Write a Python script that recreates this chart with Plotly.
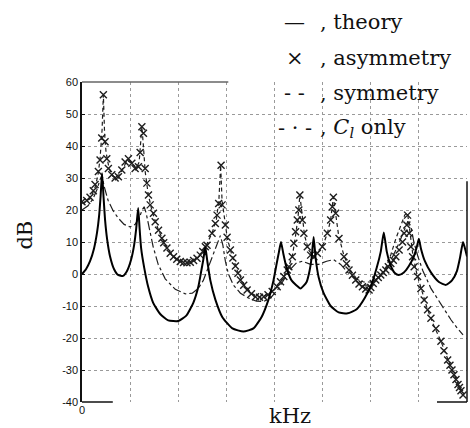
import plotly.graph_objects as go

# ---------------- data (x in kHz-axis units, y in dB) ----------------
theory_x = [0, 0.083, 0.167, 0.25, 0.313, 0.354, 0.385, 0.417, 0.448, 0.479,
            0.521, 0.583, 0.667, 0.75, 0.854, 0.938, 1.021, 1.083, 1.125, 1.167,
            1.198, 1.229, 1.292, 1.375, 1.479, 1.625, 1.792, 2.0, 2.167, 2.313,
            2.417, 2.479, 2.521, 2.563, 2.604, 2.667, 2.771, 2.917, 3.125, 3.354,
            3.563, 3.729, 3.875, 3.979, 4.042, 4.094, 4.135, 4.188, 4.25, 4.354,
            4.542, 4.667, 4.729, 4.771, 4.813, 4.854, 4.917, 5.021, 5.167, 5.333,
            5.521, 5.708, 5.875, 6.021, 6.125, 6.208, 6.271, 6.333, 6.417, 6.5,
            6.583, 6.688, 6.792, 6.896, 6.958, 7.0, 7.042, 7.125, 7.25, 7.417,
            7.563, 7.688, 7.792, 7.854, 7.917, 7.958, 8.0]
theory_db = [0, 1.5, 4, 8, 13, 18, 24, 31.5, 24, 17,
             11, 5.5, 1.5, -0.3, -0.6, 1, 4.5, 9, 14, 20.6,
             14, 8, 2, -4, -9, -12.5, -14.5, -14.7, -13, -9,
             -4, 1, 4.5, 8.4, 4, -2, -8, -13.5, -17, -18,
             -17, -13.5, -8, -2, 3, 7, 10, 6, 2, -2,
             -4.5, -2.5, 1, 5, 11.6, 5, -1, -6, -10, -12,
             -12.3, -11, -7.5, -3, 2, 7, 13, 7, 2.5, 0.3,
             -0.3, 0.5, 2.5, 5.5, 8.5, 11, 8, 4, 0.5, -2.5,
             -3.4, -2, 1, 5, 10, 8, 5.5]

asym_x = [0, 0.098, 0.167, 0.235, 0.271, 0.340, 0.375, 0.410, 0.444, 0.479,
          0.515, 0.548, 0.619, 0.688, 0.756, 0.827, 0.896, 0.965, 1.035, 1.104,
          1.173, 1.208, 1.244, 1.277, 1.313, 1.348, 1.381, 1.417, 1.485, 1.521,
          1.590, 1.660, 1.698, 1.765, 1.833, 1.902, 1.969, 2.042, 2.110, 2.181,
          2.25, 2.319, 2.390, 2.458, 2.510, 2.563, 2.598, 2.702, 2.771, 2.806,
          2.840, 2.890, 2.910, 2.979, 3.015, 3.083, 3.135, 3.188, 3.240, 3.292,
          3.360, 3.431, 3.521, 3.604, 3.688, 3.777, 3.865, 3.952, 4.056, 4.125,
          4.194, 4.265, 4.298, 4.369, 4.402, 4.438, 4.473, 4.506, 4.527, 4.577,
          4.610, 4.681, 4.75, 4.819, 4.890, 4.994, 5.098, 5.167, 5.202, 5.223,
          5.271, 5.340, 5.444, 5.496, 5.548, 5.619, 5.688, 5.756, 5.827, 5.896,
          5.965, 6.0, 6.052, 6.104, 6.156, 6.208, 6.260, 6.313, 6.365, 6.417,
          6.469, 6.521, 6.590, 6.660, 6.694, 6.75, 6.765, 6.798, 6.833, 6.869,
          6.902, 6.973, 7.042, 7.110, 7.181, 7.25, 7.354, 7.458, 7.521, 7.598,
          7.646, 7.688, 7.729, 7.771, 7.813, 7.844, 7.875, 7.917]
asym_db = [22.6, 23, 24, 26, 28, 32, 35.6, 42.5, 56, 41.3,
           36, 33, 31, 30, 30.4, 32.5, 35, 36, 34.6, 33,
           33.5, 38, 46, 44, 33, 28.4, 24.7, 21.6, 19, 16.3,
           13.7, 11.2, 9.8, 8.1, 6.5, 5.4, 4.6, 3.9, 3.6, 3.5,
           3.7, 4.2, 4.9, 5.9, 7, 8.5, 9, 12.7, 15.8, 18.4,
           22, 34, 21.6, 15.3, 11.5, 7.5, 5, 2.5, 0.2, -1.9,
           -3.5, -5, -6.2, -7.1, -7.3, -7.1, -6.5, -5.5, -4, -2.4,
           -0.8, 1.25, 2.3, 5.4, 9.6, 13.2, 16.9, 20, 24.7, 16.9,
           12.7, 8.5, 5.9, 5.4, 6.5, 8.5, 12.7, 16.9, 21, 24,
           19, 11.1, 5.4, 3.2, 1.25, -0.4, -1.9, -3.1, -4, -4.7,
           -5, -4.2, -3, -1.9, -1.1, -0.3, 0.5, 1.25, 2.3, 3.3,
           4.3, 5.4, 7.5, 10, 12.7, 15.3, 18.4, 12.7, 8.5, 5.4,
           2.3, -0.8, -4.5, -8.1, -11.2, -13.8, -17, -21, -24, -26.9,
           -28.5, -30, -31.5, -33, -34.5, -35.5, -36.5, -37.8]

sym_x = [0, 0.167, 0.271, 0.333, 0.375, 0.417, 0.444, 0.469, 0.5, 0.563,
         0.646, 0.75, 0.833, 0.938, 1.042, 1.125, 1.188, 1.244, 1.271, 1.313,
         1.375, 1.458, 1.583, 1.729, 1.896, 2.042, 2.208, 2.354, 2.479, 2.583,
         2.708, 2.792, 2.844, 2.881, 2.910, 2.958, 3.021, 3.104, 3.229, 3.375,
         3.542, 3.708, 3.875, 4.021, 4.167, 4.292, 4.375, 4.438, 4.490, 4.527,
         4.573, 4.625, 4.708, 4.813, 4.917, 5.021, 5.104, 5.167, 5.223, 5.271,
         5.333, 5.438, 5.563, 5.708, 5.854, 6.0, 6.167, 6.313, 6.417, 6.521,
         6.625, 6.708, 6.765, 6.813, 6.875, 6.958, 7.042, 7.167, 7.292, 7.458,
         7.625, 7.771, 7.917]
sym_db = [22, 23.5, 27, 31, 36, 45, 56, 44, 38, 33,
          30.5, 30, 32.5, 35.5, 34.5, 33, 35, 46, 41, 32,
          25, 19.5, 14, 9, 5.5, 4, 3.6, 4.4, 6.3, 9,
          13, 17, 23, 34, 23, 17, 11, 6.5, 1, -3.5,
          -6.3, -7.3, -6.3, -4.5, -1.5, 2, 6, 12, 18, 24.7,
          18, 12, 7.5, 5.5, 7, 9.5, 13, 17, 24, 19,
          12, 6, 1.5, -1.5, -3.5, -3.5, -1, 2, 6, 11,
          15.5, 18.5, 19, 13, 6, 0, -4.5, -10.5, -15.5, -21,
          -27.5, -33, -38]

cl_x = [0, 0.125, 0.229, 0.313, 0.375, 0.417, 0.458, 0.542, 0.646, 0.75,
        0.875, 1.0, 1.104, 1.188, 1.25, 1.292, 1.333, 1.396, 1.479, 1.583,
        1.729, 1.938, 2.146, 2.292, 2.417, 2.521, 2.625, 2.729, 2.813, 2.875,
        2.927, 2.979, 3.042, 3.146, 3.292, 3.458, 3.625, 3.771, 3.917, 4.063,
        4.208, 4.333, 4.458, 4.583, 4.75, 4.917, 5.083, 5.229, 5.375, 5.521,
        5.688, 5.854, 6.021, 6.167, 6.313, 6.458, 6.583, 6.688, 6.771, 6.833,
        6.896, 6.979, 7.083, 7.25, 7.458, 7.667, 7.792, 7.917]
cl_db = [20, 21.3, 23.5, 26.5, 29.5, 31, 27.5, 23, 19.8, 17.5,
         15.5, 14.7, 15.5, 17.5, 20, 21, 19, 14, 8.5, 3,
         -1.5, -4.8, -6.2, -6, -4.5, -2, 2, 6, 9.5, 12,
         9, 4, 0, -3.5, -6, -7.5, -8.5, -8.6, -7.5, -5,
         -1.5, 1.5, 3.5, 4, 3, 3, 4, 4.5, 3, 0.5,
         -1.5, -2.5, -2.5, -1.3, 1.5, 5.5, 9.5, 13.5, 16.5, 15,
         10, 5.5, 1, -4.5, -9.5, -14.3, -16.8, -19]

y_ticks = [-40, -30, -20, -10, 0, 10, 20, 30, 40, 50, 60]
y_tick_labels = ["-40", "-30", "-20", "-10", "0", "10", "20", "30", "40", "50", "60"]
x_ticks = [0]
x_tick_labels = ["0"]
x_grid_step = 1

legend_symbols = ["\u2014", "\u00d7", "- -", "- \u00b7 -"]
legend_texts = [", theory", ", asymmetry", ", symmetry", ", <i>C<sub>l</sub></i> only"]

# ---------------- figure ----------------
INK = "#1e1e1e"
fig = go.Figure()

fig.add_trace(go.Scatter(x=cl_x, y=cl_db, mode="lines",
                         line=dict(color=INK, width=1.2, dash="dashdot"),
                         showlegend=False))
fig.add_trace(go.Scatter(x=sym_x, y=sym_db, mode="lines",
                         line=dict(color=INK, width=1.2, dash="4px,3px"),
                         showlegend=False))
fig.add_trace(go.Scatter(x=asym_x, y=asym_db, mode="markers",
                         marker=dict(symbol="x-thin-open", size=7, color=INK,
                                     line=dict(color=INK, width=1.4)),
                         showlegend=False))
fig.add_trace(go.Scatter(x=theory_x, y=theory_db, mode="lines",
                         line=dict(color="#000", width=2, shape="spline", smoothing=0.5),
                         showlegend=False))

serif = "DejaVu Serif"
row_y = [1.1875, 1.075, 0.966, 0.856]
sym_x_paper = 0.553
text_x_paper = 0.612
for sy, st, yy in zip(legend_symbols, legend_texts, row_y):
    fig.add_annotation(x=sym_x_paper, y=yy, xref="paper", yref="paper",
                       text=sy, showarrow=False, xanchor="center", yanchor="middle",
                       font=dict(family=serif, size=21, color="#111"))
    fig.add_annotation(x=text_x_paper, y=yy, xref="paper", yref="paper",
                       text=st, showarrow=False, xanchor="left", yanchor="middle",
                       font=dict(family=serif, size=21, color="#111"))

fig.add_annotation(x=-0.148, y=0.52, xref="paper", yref="paper", text="dB",
                   textangle=-90, showarrow=False, xanchor="center", yanchor="middle",
                   font=dict(family=serif, size=21, color="#111"))
fig.add_annotation(x=0.540, y=-0.044, xref="paper", yref="paper", text="kHz",
                   showarrow=False, xanchor="center", yanchor="middle",
                   font=dict(family=serif, size=21, color="#111"))

# partial frame pieces (as in the scanned original)
frame = dict(color="#111", width=1.5)
fig.add_shape(type="line", xref="paper", yref="paper", x0=0, x1=0.38, y0=1, y1=1,
              line=dict(color="#666", width=1.5))
fig.add_shape(type="line", xref="paper", yref="paper", x0=1, x1=1, y0=0, y1=0.69, line=frame)
fig.add_shape(type="line", xref="paper", yref="paper", x0=0, x1=0.08, y0=0, y1=0, line=frame)
fig.add_shape(type="line", xref="paper", yref="paper", x0=0.922, x1=1, y0=0, y1=0, line=frame)

fig.update_layout(
    width=470, height=428,
    margin=dict(l=82, r=3, t=82, b=26),
    paper_bgcolor="white", plot_bgcolor="white",
    showlegend=False,
)
fig.update_xaxes(range=[0, 8], tickvals=x_ticks, ticktext=x_tick_labels,
                 showgrid=False, zeroline=False, showline=False, ticks="",
                 minor=dict(dtick=x_grid_step, tick0=0, showgrid=True,
                            gridcolor="#9a9a9a", griddash="dot", gridwidth=1),
                 tickfont=dict(family="Liberation Sans", size=11, color="#111"))
fig.update_yaxes(range=[-40, 60], tickvals=y_ticks, ticktext=y_tick_labels,
                 showgrid=True, gridcolor="#9a9a9a", griddash="dot", gridwidth=1,
                 zeroline=False, showline=True, linecolor="#111", linewidth=1.5,
                 ticks="inside", ticklen=3, tickcolor="#111",
                 tickfont=dict(family="Liberation Sans", size=11, color="#111"))

fig.write_html("out.html")
